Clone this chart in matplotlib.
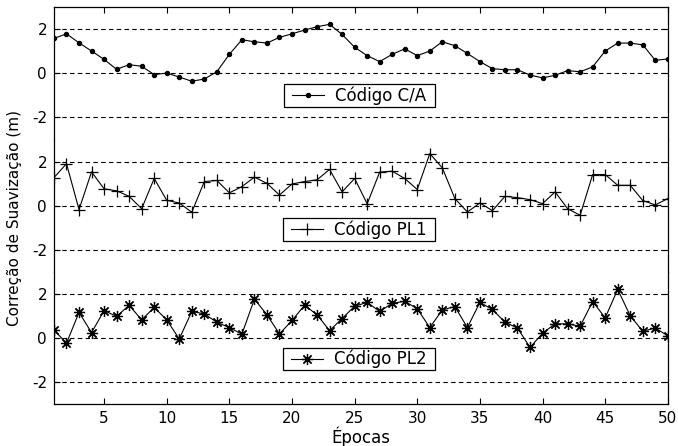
import matplotlib
matplotlib.use("Agg")
import matplotlib.pyplot as plt
import numpy as np

plt.rcParams['font.family'] = ['DejaVu Sans']
plt.rcParams['axes.unicode_minus'] = False

epocas = np.arange(1, 51)

codigo_ca = [1.58, 1.79, 1.38, 1.01, 0.63, 0.18, 0.39, 0.32, -0.06, 0.01,
             -0.17, -0.36, -0.26, 0.07, 0.86, 1.52, 1.43, 1.37, 1.63, 1.79,
             1.96, 2.11, 2.22, 1.76, 1.18, 0.80, 0.53, 0.86, 1.11, 0.80,
             1.01, 1.43, 1.25, 0.90, 0.53, 0.21, 0.16, 0.16, -0.08, -0.21,
             -0.09, 0.12, 0.07, 0.29, 1.01, 1.37, 1.37, 1.29, 0.59, 0.65]

codigo_pl1 = [1.27, 1.90, -0.18, 1.53, 0.76, 0.67, 0.42, -0.14, 1.23, 0.24,
              0.12, -0.30, 1.09, 1.14, 0.58, 0.86, 1.29, 1.01, 0.48, 0.98,
              1.09, 1.17, 1.64, 0.62, 1.23, 0.08, 1.52, 1.56, 1.23, 0.73,
              2.36, 1.71, 0.32, -0.29, 0.12, -0.23, 0.42, 0.36, 0.27, 0.09,
              0.62, -0.14, -0.44, 1.41, 1.41, 0.92, 0.92, 0.23, 0.03, 0.32]

codigo_pl2 = [0.36, -0.24, 1.16, 0.24, 1.24, 0.98, 1.48, 0.82, 1.38, 0.82,
              -0.05, 1.20, 1.09, 0.71, 0.47, 0.17, 1.76, 1.05, 0.18, 0.79,
              1.48, 1.05, 0.33, 0.88, 1.44, 1.61, 1.20, 1.57, 1.66, 1.32,
              0.47, 1.27, 1.42, 0.47, 1.61, 1.29, 0.71, 0.45, -0.43, 0.21,
              0.64, 0.64, 0.53, 1.65, 0.91, 2.20, 1.00, 0.30, 0.45, 0.09]

series = [codigo_ca, codigo_pl1, codigo_pl2]
rotulos = ['Código C/A', 'Código PL1', 'Código PL2']
marcadores = [('o', 3), ('+', 8), ((8, 2, 0), 8)]
legenda_y = [0.333, 0.32, 0.34]
yticks = [-2, 0, 2]
xticks = [5, 10, 15, 20, 25, 30, 35, 40, 45, 50]

fig, axes = plt.subplots(3, 1, sharex=True, figsize=(6.78, 4.46), dpi=100)
fig.subplots_adjust(left=0.0796, right=0.985, top=0.984, bottom=0.094, hspace=0)

for i, ax in enumerate(axes):
    m, ms = marcadores[i]
    ax.plot(epocas, series[i], color='black', lw=0.8, marker=m, markersize=ms,
            markeredgewidth=0.9, markerfacecolor='black', markeredgecolor='black',
            label=rotulos[i])
    for yv in yticks:
        ax.axhline(yv, color='black', lw=0.8, linestyle=(0, (4, 3)), zorder=0)
    ax.set_ylim(-3, 3)
    ax.set_xlim(1, 50)
    ax.set_yticks(yticks)
    ax.tick_params(axis='y', direction='in', length=4, right=True, labelsize=11, pad=5)
    ax.tick_params(axis='x', direction='in', length=4, top=False, bottom=False, labelbottom=False)
    for s in ax.spines.values():
        s.set_linewidth(0.9)
    leg = ax.legend(loc='center', bbox_to_anchor=(0.497, legenda_y[i]), fancybox=False,
                    framealpha=1, edgecolor='black', handlelength=1.9,
                    handletextpad=0.65, borderpad=0.12, fontsize=12)
    frame = leg.get_frame()
    frame.set_linewidth(0.9)
    frame.set_boxstyle('square', pad=0.4)
    frame.set_mutation_aspect(0.01)

axes[0].spines['bottom'].set_visible(False)
axes[1].spines['top'].set_visible(False)
axes[1].spines['bottom'].set_visible(False)
axes[2].spines['top'].set_visible(False)

axes[0].tick_params(axis='x', top=True)
axes[2].tick_params(axis='x', bottom=True, labelbottom=True, labelsize=11, pad=5)
axes[2].set_xticks(xticks)
axes[2].set_xlabel('Épocas', fontsize=12, labelpad=0)

fig.text(0.022, 0.511, 'Correção de Suavização (m)', rotation=90,
         ha='center', va='center', fontsize=11)

fig.savefig('out.png', dpi=100)
